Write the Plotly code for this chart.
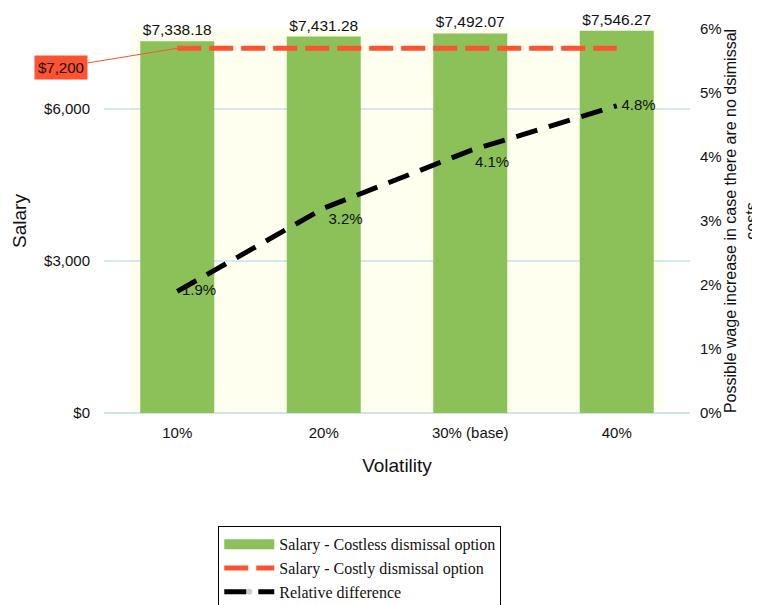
import plotly.graph_objects as go

volatility = ["10%", "20%", "30% (base)", "40%"]
salary_costless = [7338.18, 7431.28, 7492.07, 7546.27]
salary_costly = [7200, 7200, 7200, 7200]
relative_diff = [0.019, 0.032, 0.041, 0.048]

GREEN = "#8cc159"
RED = "#ff5230"
FONT = "Liberation Sans, Arial, sans-serif"

fig = go.Figure()

fig.add_trace(go.Bar(
    x=volatility, y=salary_costless,
    name="Salary - Costless dismissal option",
    marker=dict(color=GREEN, line=dict(width=0)),
    width=0.505,
    text=[f"${v:,.2f}" for v in salary_costless],
    textposition="outside",
    textfont=dict(size=15.5, color="#111"),
    cliponaxis=False,
    showlegend=False,
))

# legend entry for the bars (wide swatch like the original)
fig.add_trace(go.Scatter(
    x=volatility, y=[None] * len(volatility),
    name="Salary - Costless dismissal option",
    mode="lines",
    line=dict(color=GREEN, width=10),
))

fig.add_trace(go.Scatter(
    x=volatility, y=salary_costly,
    name="Salary - Costly dismissal option",
    mode="lines",
    line=dict(color=RED, width=5, dash="24px,8px"),
))

fig.add_trace(go.Scatter(
    x=volatility, y=relative_diff,
    name="Relative difference",
    mode="lines+markers+text",
    yaxis="y2",
    line=dict(color="black", width=5, dash="22px,12px"),
    marker=dict(size=6, opacity=0),
    text=[f"{v:.1%}" for v in relative_diff],
    textposition=["middle right", "bottom right", "bottom right", "middle right"],
    textfont=dict(size=15, color="#111"),
    cliponaxis=False,
))

# pale highlight behind the bars
fig.add_shape(
    type="rect", xref="x", yref="y",
    x0=-0.32, x1=3.32, y0=-200, y1=7700,
    fillcolor="#fffff0", line=dict(width=0), layer="below",
)

fig.add_annotation(
    x=volatility[0], y=salary_costly[0], text="$7,200",
    showarrow=True, arrowhead=0, arrowwidth=1, arrowcolor=RED,
    ax=-116, ay=19,
    bgcolor=RED, borderpad=3,
    font=dict(size=15, color="#111", family=FONT),
)

# page body has an 8px margin, so the figure is sized to fit the window
fig.update_layout(
    width=752, height=597,
    margin=dict(l=96, r=70, t=21, b=192, autoexpand=False),
    paper_bgcolor="white",
    plot_bgcolor="white",
    font=dict(family=FONT, size=15, color="#111"),
    showlegend=True,
    legend=dict(
        x=0.195, y=-0.295, xanchor="left", yanchor="top",
        bordercolor="black", borderwidth=1,
        font=dict(family="Liberation Serif, Times New Roman, serif", size=16),
        itemwidth=50,
        tracegroupgap=0,
    ),
    xaxis=dict(
        title=dict(text="Volatility", font=dict(size=19), standoff=18),
        range=[-0.5, 3.5],
        showgrid=False, ticks="", showline=False,
        ticklabelstandoff=9, automargin=False,
    ),
    yaxis=dict(
        title=dict(text="Salary", font=dict(size=19), standoff=12),
        range=[0, 7580], tickvals=[0, 3000, 6000],
        ticktext=["$0", "$3,000", "$6,000"],
        gridcolor="#d5e9f1", gridwidth=1.5,
        zeroline=True, zerolinecolor="#cfe5ee", zerolinewidth=2,
        ticklabelstandoff=13, automargin=False,
    ),
    yaxis2=dict(
        title=dict(
            text="Possible wage increase in case there are no dsimissal<br>costs",
            font=dict(size=16), standoff=8,
        ),
        overlaying="y", side="right",
        range=[0, 0.06], dtick=0.01, tickformat=".0%",
        showgrid=False, zeroline=False,
        ticklabelstandoff=9, automargin=False,
    ),
)

fig.write_html("out.html")
